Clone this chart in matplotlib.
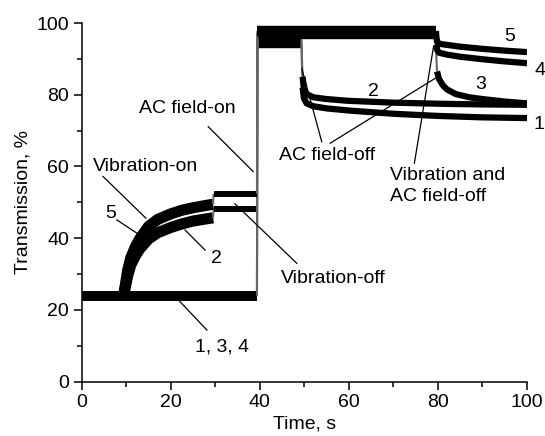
import numpy as np
import matplotlib.pyplot as plt
from matplotlib.ticker import MultipleLocator

plt.rcParams["font.family"] = ["Liberation Sans", "DejaVu Sans"]
plt.rcParams["font.size"] = 14

# transmission traces: time (s) and transmission (%)
T1 = [0, 39.35, 39.45, 49.35, 49.45, 49.6, 49.9, 50.5, 52, 55, 60, 70, 80, 90, 100]
Y1 = [24, 24, 94.5, 94.5, 88, 82, 79, 77.6, 76.8, 76.2, 75.6, 74.7, 74.1, 73.7, 73.5]

T2 = [0, 9.4, 9.8, 10.3, 11, 12, 13, 15, 17, 20, 22.5, 25, 29.5, 29.6, 39.35, 39.45,
      49.35, 49.45, 49.6, 49.9, 50.5, 52, 55, 60, 70, 80, 90, 100]
Y2 = [24, 24, 26.5, 29.5, 32.5, 35, 37, 39.8, 41.5, 43, 44, 44.8, 45.7, 48.1, 48.1, 95.5,
      95.5, 90, 85, 81.5, 80.2, 79.3, 78.8, 78.3, 77.8, 77.5, 77.3, 77.2]

T3 = [0, 39.35, 39.45, 79.55, 79.65, 79.8, 80.2, 81, 82, 84, 87, 90, 95, 100]
Y3 = [24, 24, 96.8, 96.8, 90, 86.5, 84.5, 82.8, 81.5, 80.2, 79.3, 78.8, 78.1, 77.6]

T4 = [0, 39.35, 39.45, 79.55, 79.65, 79.8, 80.3, 82, 85, 90, 95, 100]
Y4 = [24, 24, 97.3, 97.3, 94, 92.5, 91.7, 91.2, 90.6, 89.9, 89.3, 88.8]

T5 = [0, 9.4, 9.8, 10.3, 11, 12, 13, 15, 17, 20, 22.5, 25, 29.5, 29.6, 39.35, 39.45,
      79.55, 79.65, 79.8, 80.3, 85, 90, 95, 100]
Y5 = [24, 24, 27, 31, 34.5, 37.5, 39.8, 43.3, 45.2, 46.8, 47.8, 48.5, 49.5, 52.4, 52.4, 97.8,
      97.8, 96, 94.8, 94.2, 93.4, 92.8, 92.3, 91.9]

TRACES = [(T1, Y1), (T2, Y2), (T3, Y3), (T4, Y4), (T5, Y5)]

# curve number labels
NUM_LABELS = ["5", "2", "1, 3, 4", "5", "4", "3", "2", "1"]
NUM_POS = [(6.4, 47), (30.3, 34.4), (31.5, 9.8), (96.1, 96.2), (103, 86.9),
           (89.5, 82.8), (65.4, 80.9), (102.6, 71.6)]

EVENT_LABELS = ["AC field-on", "Vibration-on", "Vibration-off", "AC field-off",
                "Vibration and\nAC field-off"]
EVENT_POS = [(23.8, 76.3), (14.4, 60), (56.5, 28.8), (55, 63.2), (69.3, 54.6)]

# leader lines (x0, y0, x1, y1)
LEADERS = [
    (28.4, 71.1, 38.5, 58.6),
    (4.8, 57.2, 14.4, 45.6),
    (7.9, 45.1, 12.4, 41.4),
    (23.2, 42.3, 27.7, 36.7),
    (21.7, 22.8, 28.1, 14.4),
    (34.4, 49.6, 48.3, 33.0),
    (53.9, 66.9, 49.4, 87.4),
    (55.8, 66.5, 79.4, 84.6),
    (74.7, 60.9, 79.0, 93.4),
]


def seg_style(t0, t1, y0, y1):
    # (width in points, colour) of the noisy trace between two samples
    slope = abs(y1 - y0) / max(t1 - t0, 1e-9)
    if slope > 20:
        return 1.5, "0.4"
    tm = 0.5 * (t0 + t1)
    if tm < 30:
        return (8.0 if slope > 0.05 else 7.0), "black"
    if tm < 39.4:
        return (7.0 if y0 < 30 else 4.3), "black"
    if tm < 79.6 and min(y0, y1) > 93:
        return 7.5, "black"
    return 4.5, "black"


def draw_trace(ax, t, y):
    runs = []
    for i in range(len(t) - 1):
        style = seg_style(t[i], t[i + 1], y[i], y[i + 1])
        if runs and runs[-1][0] == style:
            runs[-1][1].append(t[i + 1])
            runs[-1][2].append(y[i + 1])
        else:
            runs.append((style, [t[i], t[i + 1]], [y[i], y[i + 1]]))
    for (lw, color), xs, ys in runs:
        ax.plot(xs, ys, lw=lw, color=color, solid_capstyle="butt", solid_joinstyle="round")


fig = plt.figure(figsize=(5.45, 4.36), dpi=100)
ax = fig.add_axes([0.15, 0.1245, 0.817, 0.8227])

for t, y in TRACES:
    draw_trace(ax, t, y)

for x0, y0, x1, y1 in LEADERS:
    ax.plot([x0, x1], [y0, y1], color="black", lw=0.9, clip_on=False)

for txt, (x, y) in zip(NUM_LABELS, NUM_POS):
    ax.text(x, y, txt, ha="center", va="center", clip_on=False)

for txt, (x, y) in zip(EVENT_LABELS, EVENT_POS):
    ha = "left" if "\n" in txt else "center"
    ax.text(x, y, txt, ha=ha, va="center", linespacing=1.3)

ax.set_xlim(0, 100)
ax.set_ylim(0, 100)
ax.xaxis.set_major_locator(MultipleLocator(20))
ax.xaxis.set_minor_locator(MultipleLocator(10))
ax.yaxis.set_major_locator(MultipleLocator(20))
ax.yaxis.set_minor_locator(MultipleLocator(10))
ax.tick_params(which="major", direction="out", length=6, width=1.1, labelsize=14, pad=3)
ax.tick_params(which="minor", direction="out", length=3.5, width=1.1)
for side in ["top", "right"]:
    ax.spines[side].set_visible(False)
for side in ["left", "bottom"]:
    ax.spines[side].set_linewidth(1.1)

ax.set_xlabel("Time, s", fontsize=14, labelpad=3)
ax.set_ylabel("Transmission, %", fontsize=14, labelpad=4)

fig.savefig("out.png", dpi=100)
